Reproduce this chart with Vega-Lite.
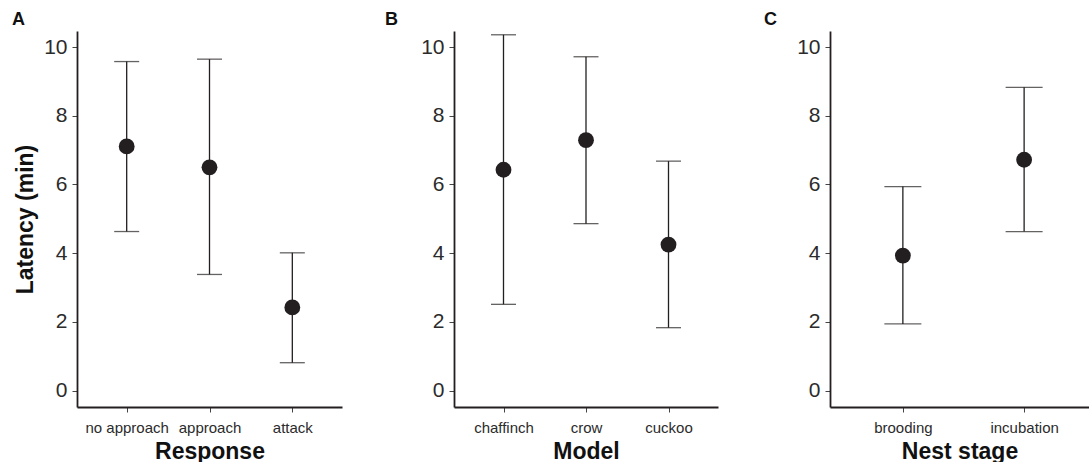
{
  "$schema": "https://vega.github.io/schema/vega-lite/v6.json",
  "padding": {"left": 12, "top": 11, "right": 0, "bottom": 0},
  "background": "white",
  "bounds": "flush",
  "spacing": 112,
  "config": {
    "view": {"stroke": null},
    "font": "Liberation Sans",
    "axis": {
      "domainColor": "#231f20", "domainWidth": 1.8,
      "tickColor": "#444444", "tickSize": 5, "tickWidth": 1,
      "grid": false,
      "labelFont": "Liberation Sans", "labelColor": "#2b2b2b",
      "titleFont": "Liberation Sans", "titleFontWeight": "bold", "titleColor": "#111111", "titleFontSize": 23
    },
    "axisY": {"labelFontSize": 21, "labelPadding": 5, "titlePadding": 6},
    "axisX": {"labelFontSize": 15, "labelPadding": 8, "titlePadding": 5, "labelAngle": 0},
    "title": {"font": "Liberation Sans", "fontSize": 18, "fontWeight": "bold", "color": "#111111", "anchor": "start", "frame": "group", "offset": 2}
  },
  "datasets": {
    "d": [
      {"panel": "A", "cat": "no approach", "mean": 7.11, "lo": 4.63, "hi": 9.58},
      {"panel": "A", "cat": "approach", "mean": 6.50, "lo": 3.38, "hi": 9.65},
      {"panel": "A", "cat": "attack", "mean": 2.42, "lo": 0.81, "hi": 4.01},
      {"panel": "B", "cat": "chaffinch", "mean": 6.43, "lo": 2.51, "hi": 10.36},
      {"panel": "B", "cat": "crow", "mean": 7.29, "lo": 4.86, "hi": 9.72},
      {"panel": "B", "cat": "cuckoo", "mean": 4.25, "lo": 1.83, "hi": 6.68},
      {"panel": "C", "cat": "brooding", "mean": 3.93, "lo": 1.94, "hi": 5.94},
      {"panel": "C", "cat": "incubation", "mean": 6.72, "lo": 4.63, "hi": 8.83}
    ]
  },
  "hconcat": [
    {
      "title": {"text": "A", "dx": -65},
      "width": 265, "height": 376,
      "data": {"name": "d"},
      "transform": [{"filter": "datum.panel === 'A'"}],
      "encoding": {
        "x": {"field": "cat", "type": "nominal", "sort": ["no approach", "approach", "attack"], "scale": {"type": "point", "padding": 0.6}, "axis": {"title": "Response"}}
      },
      "layer": [
        {"mark": {"type": "rule", "color": "#231f20", "strokeWidth": 1.3},
         "encoding": {"y": {"field": "lo", "type": "quantitative", "scale": {"domain": [-0.48, 10.47], "nice": false, "zero": false}, "axis": {"title": "Latency (min)", "values": [0, 2, 4, 6, 8, 10]}}, "y2": {"field": "hi"}}},
        {"mark": {"type": "tick", "color": "#231f20", "size": 25, "thickness": 1.3},
         "encoding": {"y": {"field": "lo", "type": "quantitative", "title": "Latency (min)"}}},
        {"mark": {"type": "tick", "color": "#231f20", "size": 25, "thickness": 1.3},
         "encoding": {"y": {"field": "hi", "type": "quantitative", "title": "Latency (min)"}}},
        {"mark": {"type": "point", "filled": true, "color": "#231f20", "size": 250, "opacity": 1},
         "encoding": {"y": {"field": "mean", "type": "quantitative", "title": "Latency (min)"}}}
      ]
    },
    {
      "title": {"text": "B", "dx": -69},
      "width": 264, "height": 376,
      "data": {"name": "d"},
      "transform": [{"filter": "datum.panel === 'B'"}],
      "encoding": {
        "x": {"field": "cat", "type": "nominal", "sort": ["chaffinch", "crow", "cuckoo"], "scale": {"type": "point", "padding": 0.6}, "axis": {"title": "Model"}}
      },
      "layer": [
        {"mark": {"type": "rule", "color": "#231f20", "strokeWidth": 1.3},
         "encoding": {"y": {"field": "lo", "type": "quantitative", "scale": {"domain": [-0.48, 10.47], "nice": false, "zero": false}, "axis": {"title": null, "values": [0, 2, 4, 6, 8, 10]}}, "y2": {"field": "hi"}}},
        {"mark": {"type": "tick", "color": "#231f20", "size": 25, "thickness": 1.3},
         "encoding": {"y": {"field": "lo", "type": "quantitative", "title": null}}},
        {"mark": {"type": "tick", "color": "#231f20", "size": 25, "thickness": 1.3},
         "encoding": {"y": {"field": "hi", "type": "quantitative", "title": null}}},
        {"mark": {"type": "point", "filled": true, "color": "#231f20", "size": 250, "opacity": 1},
         "encoding": {"y": {"field": "mean", "type": "quantitative", "title": null}}}
      ]
    },
    {
      "title": {"text": "C", "dx": -66},
      "width": 259, "height": 376,
      "data": {"name": "d"},
      "transform": [{"filter": "datum.panel === 'C'"}],
      "encoding": {
        "x": {"field": "cat", "type": "nominal", "sort": ["brooding", "incubation"], "scale": {"type": "point", "padding": 0.568, "align": 0.529}, "axis": {"title": "Nest stage"}}
      },
      "layer": [
        {"mark": {"type": "rule", "color": "#231f20", "strokeWidth": 1.3},
         "encoding": {"y": {"field": "lo", "type": "quantitative", "scale": {"domain": [-0.48, 10.47], "nice": false, "zero": false}, "axis": {"title": null, "values": [0, 2, 4, 6, 8, 10]}}, "y2": {"field": "hi"}}},
        {"mark": {"type": "tick", "color": "#231f20", "size": 37, "thickness": 1.3},
         "encoding": {"y": {"field": "lo", "type": "quantitative", "title": null}}},
        {"mark": {"type": "tick", "color": "#231f20", "size": 37, "thickness": 1.3},
         "encoding": {"y": {"field": "hi", "type": "quantitative", "title": null}}},
        {"mark": {"type": "point", "filled": true, "color": "#231f20", "size": 250, "opacity": 1},
         "encoding": {"y": {"field": "mean", "type": "quantitative", "title": null}}}
      ]
    }
  ]
}
